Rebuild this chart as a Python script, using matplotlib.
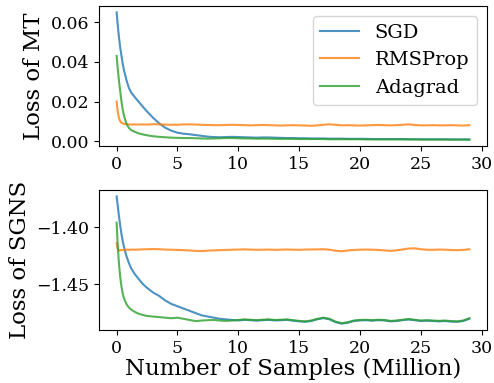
import matplotlib
matplotlib.use('Agg')
from matplotlib import pyplot as plt

plt.rcParams['font.family'] = 'DejaVu Serif'

# Data (samples in millions)
samples = [0, 0.1, 0.2, 0.3, 0.4, 0.5, 0.6, 0.8, 1.0, 1.2, 1.5, 1.8, 2.1, 2.5, 3.0, 3.5, 4.0, 4.5,
           5.0, 5.5, 6.0, 6.5, 7.0, 7.5, 8.0, 8.5, 9.0, 9.5, 10.0, 10.5, 11.0, 11.5, 12.0, 12.5,
           13.0, 13.5, 14.0, 14.5, 15.0, 15.5, 16.0, 16.5, 17.0, 17.5, 18.0, 18.5, 19.0, 19.5,
           20.0, 20.5, 21.0, 21.5, 22.0, 22.5, 23.0, 23.5, 24.0, 24.5, 25.0, 25.5, 26.0, 26.5,
           27.0, 27.5, 28.0, 28.5, 29.0]

mt_sgd = [0.065, 0.058, 0.052, 0.047, 0.043, 0.039, 0.036, 0.031, 0.027, 0.0245, 0.0222, 0.0200,
          0.0178, 0.0150, 0.0118, 0.0090, 0.0068, 0.0053,
          0.0043, 0.0038, 0.0035, 0.0031, 0.0027, 0.0023, 0.0021, 0.0020, 0.0021, 0.0022, 0.0021,
          0.0020, 0.0019, 0.0018, 0.0019, 0.0019, 0.0018, 0.0017, 0.0016, 0.0016, 0.0015, 0.0015,
          0.0014, 0.0014, 0.0014, 0.0013, 0.0013, 0.0013, 0.0012, 0.0012, 0.0012, 0.0012, 0.0011,
          0.0011, 0.0011, 0.0011, 0.0011, 0.0011, 0.0010, 0.0010, 0.0010, 0.0010, 0.0010, 0.0010,
          0.0010, 0.0009, 0.0009, 0.0009, 0.0009]
mt_rmsprop = [0.0200, 0.0145, 0.0115, 0.0100, 0.0093, 0.0090, 0.0088, 0.0086, 0.0085, 0.0084,
              0.0085, 0.0084, 0.0085, 0.0084, 0.0086, 0.0085, 0.0084, 0.0083,
              0.0083, 0.0085, 0.0085, 0.0084, 0.0083, 0.0082, 0.0081, 0.0081, 0.0082, 0.0083,
              0.0082, 0.0081, 0.0080, 0.0081, 0.0082, 0.0081, 0.0080, 0.0079, 0.0080, 0.0081,
              0.0080, 0.0079, 0.0078, 0.0080, 0.0083, 0.0085, 0.0083, 0.0080, 0.0081, 0.0080,
              0.0079, 0.0080, 0.0081, 0.0082, 0.0081, 0.0080, 0.0081, 0.0083, 0.0085, 0.0082,
              0.0080, 0.0080, 0.0081, 0.0080, 0.0080, 0.0081, 0.0080, 0.0079, 0.0081]
mt_adagrad = [0.043, 0.036, 0.030, 0.025, 0.020, 0.016, 0.013, 0.0090, 0.0068, 0.0056, 0.0047,
              0.0040, 0.0035, 0.0030, 0.0025, 0.0022, 0.0020, 0.0018,
              0.0017, 0.0016, 0.0016, 0.0015, 0.0014, 0.0013, 0.0014, 0.0015, 0.0016, 0.0016,
              0.0015, 0.0014, 0.0014, 0.0013, 0.0013, 0.0013, 0.0012, 0.0012, 0.0012, 0.0012,
              0.0011, 0.0011, 0.0011, 0.0011, 0.0011, 0.0010, 0.0010, 0.0010, 0.0010, 0.0010,
              0.0010, 0.0009, 0.0009, 0.0009, 0.0009, 0.0009, 0.0009, 0.0009, 0.0009, 0.0009,
              0.0008, 0.0008, 0.0008, 0.0008, 0.0008, 0.0008, 0.0008, 0.0008, 0.0008]

sgns_sgd = [-1.373, -1.382, -1.391, -1.399, -1.406, -1.412, -1.417, -1.425, -1.431, -1.436,
            -1.441, -1.445, -1.449, -1.453, -1.457, -1.460, -1.464, -1.467,
            -1.469, -1.471, -1.473, -1.475, -1.477, -1.478, -1.479, -1.480, -1.4805, -1.4810,
            -1.4814, -1.4809, -1.4812, -1.4816, -1.4812, -1.4809, -1.4814, -1.4812, -1.4809,
            -1.4816, -1.4822, -1.4826, -1.4819, -1.4804, -1.4794, -1.4804, -1.4829, -1.4842,
            -1.4834, -1.4819, -1.4814, -1.4812, -1.4816, -1.4812, -1.4814, -1.4822, -1.4819,
            -1.4812, -1.4806, -1.4812, -1.4819, -1.4816, -1.4819, -1.4822, -1.4819, -1.4824,
            -1.4826, -1.4819, -1.4799]
sgns_rmsprop = [-1.414, -1.419, -1.4205, -1.4200, -1.4198, -1.4200, -1.4198, -1.4196, -1.4197,
                -1.4195, -1.4196, -1.4195, -1.4193, -1.4192, -1.4190, -1.4192, -1.4195, -1.4196,
                -1.4198, -1.4200, -1.4203, -1.4206, -1.4208, -1.4204, -1.4202, -1.4200, -1.4198,
                -1.4196, -1.4195, -1.4193, -1.4195, -1.4197, -1.4196, -1.4195, -1.4197, -1.4196,
                -1.4194, -1.4196, -1.4197, -1.4195, -1.4194, -1.4193, -1.4192, -1.4196, -1.4205,
                -1.4210, -1.4203, -1.4198, -1.4196, -1.4195, -1.4196, -1.4198, -1.4202, -1.4206,
                -1.4202, -1.4194, -1.4186, -1.4184, -1.4192, -1.4196, -1.4197, -1.4195, -1.4196,
                -1.4199, -1.4200, -1.4198, -1.4192]
sgns_adagrad = [-1.396, -1.418, -1.433, -1.444, -1.452, -1.458, -1.462, -1.467, -1.470, -1.472,
                -1.474, -1.4755, -1.4765, -1.4775, -1.478, -1.4785, -1.4790, -1.4795,
                -1.4790, -1.4800, -1.4810, -1.4820, -1.4815, -1.4812, -1.4810, -1.4815, -1.4818,
                -1.4815, -1.4810, -1.4805, -1.4808, -1.4812, -1.4808, -1.4805, -1.4810, -1.4808,
                -1.4805, -1.4812, -1.4818, -1.4822, -1.4815, -1.4800, -1.4790, -1.4800, -1.4825,
                -1.4838, -1.4830, -1.4815, -1.4810, -1.4808, -1.4812, -1.4808, -1.4810, -1.4818,
                -1.4815, -1.4808, -1.4802, -1.4808, -1.4815, -1.4812, -1.4815, -1.4818, -1.4815,
                -1.4820, -1.4822, -1.4815, -1.4795]

labels = ['SGD', 'RMSProp', 'Adagrad']

fig = plt.figure(figsize=(4.94, 3.83), dpi=100)
ax1 = fig.add_axes([0.2004, 0.6188, 0.7854, 0.3655])
ax2 = fig.add_axes([0.2004, 0.1384, 0.7854, 0.3655])

for ys, lab in zip([mt_sgd, mt_rmsprop, mt_adagrad], labels):
    ax1.plot(samples, ys, label=lab, alpha=0.8, lw=1.5)
for ys, lab in zip([sgns_sgd, sgns_rmsprop, sgns_adagrad], labels):
    ax2.plot(samples, ys, label=lab, alpha=0.8, lw=1.5)

ax1.set_yticks([0.0, 0.02, 0.04, 0.06])
ax2.set_yticks([-1.45, -1.40])
for ax in (ax1, ax2):
    ax.set_xticks([0, 5, 10, 15, 20, 25, 30])
    ax.tick_params(labelsize=12.5)

ax1.set_ylabel('Loss of MT', fontsize=16.5)
ax2.set_ylabel('Loss of SGNS', fontsize=16.5)
ax2.set_xlabel('Number of Samples (Million)', fontsize=16.5, labelpad=1)
ax1.legend(loc='upper right', fontsize=14)

plt.savefig('out.png', dpi=100)
